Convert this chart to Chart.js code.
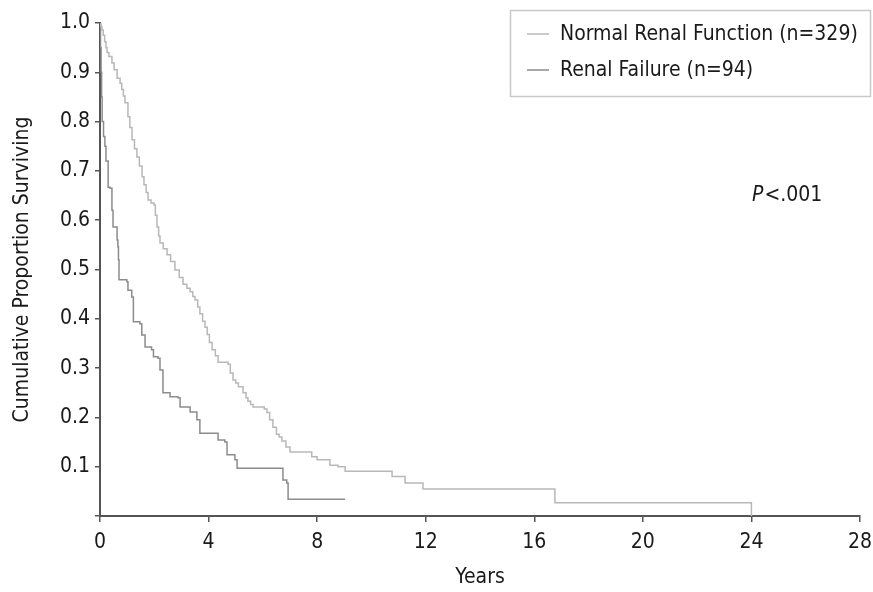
<!DOCTYPE html>
<html>
<head>
<meta charset="utf-8">
<script src="https://cdn.jsdelivr.net/npm/chart.js@4.4.0/dist/chart.umd.min.js"></script>
<style>
  html, body { margin: 0; padding: 0; background: #fff; }
  #wrap { width: 873px; height: 592px; }
</style>
</head>
<body>
<div id="wrap"><canvas id="km" width="873" height="592"></canvas></div>
<script>
// Kaplan-Meier estimates (time in years, proportion surviving)
const normalTimes = [0, 0.03, 0.07, 0.12, 0.17, 0.22, 0.26, 0.33, 0.44, 0.52, 0.63, 0.74, 0.8, 0.86, 0.92, 1.03, 1.1, 1.18, 1.27, 1.36, 1.45, 1.55, 1.62, 1.7, 1.77, 1.88, 1.99, 2.04, 2.1, 2.16, 2.21, 2.33, 2.47, 2.6, 2.76, 2.92, 3.06, 3.2, 3.32, 3.42, 3.5, 3.6, 3.68, 3.78, 3.87, 3.95, 4.03, 4.13, 4.25, 4.35, 4.72, 4.8, 4.9, 5.0, 5.1, 5.27, 5.38, 5.45, 5.55, 5.64, 6.05, 6.15, 6.25, 6.37, 6.5, 6.6, 6.7, 6.85, 7.0, 7.8, 8.0, 8.47, 8.77, 9.03, 10.76, 11.24, 11.9, 16.76, 24];
const normalSurv = [1.0, 0.993, 0.986, 0.975, 0.962, 0.95, 0.94, 0.932, 0.919, 0.905, 0.888, 0.878, 0.865, 0.852, 0.838, 0.81, 0.788, 0.763, 0.745, 0.728, 0.71, 0.688, 0.672, 0.656, 0.641, 0.635, 0.631, 0.61, 0.586, 0.568, 0.554, 0.542, 0.53, 0.516, 0.499, 0.484, 0.47, 0.462, 0.455, 0.445, 0.438, 0.424, 0.41, 0.395, 0.383, 0.368, 0.352, 0.337, 0.325, 0.312, 0.308, 0.29, 0.276, 0.27, 0.262, 0.25, 0.24, 0.233, 0.226, 0.221, 0.217, 0.21, 0.195, 0.18, 0.166, 0.16, 0.152, 0.14, 0.13, 0.12, 0.114, 0.103, 0.1, 0.091, 0.08, 0.067, 0.055, 0.027, 0];

const failureTimes = [0, 0.02, 0.04, 0.06, 0.08, 0.13, 0.18, 0.22, 0.3, 0.37, 0.44, 0.48, 0.63, 0.66, 0.68, 0.7, 0.99, 1.03, 1.17, 1.23, 1.47, 1.54, 1.66, 1.9, 1.97, 2.14, 2.21, 2.32, 2.58, 2.87, 2.95, 3.32, 3.57, 3.68, 4.35, 4.6, 4.68, 4.97, 5.05, 6.74, 6.88, 6.93, 9.03];
const failureSurv = [1.0, 0.95, 0.9, 0.85, 0.8, 0.77, 0.75, 0.72, 0.667, 0.665, 0.62, 0.586, 0.56, 0.546, 0.52, 0.479, 0.475, 0.458, 0.444, 0.394, 0.39, 0.367, 0.343, 0.337, 0.323, 0.32, 0.296, 0.25, 0.242, 0.24, 0.221, 0.211, 0.195, 0.168, 0.154, 0.15, 0.124, 0.114, 0.097, 0.073, 0.067, 0.034, 0.034];

const xTicks = [0, 4, 8, 12, 16, 20, 24, 28];
const yTicks = [0, 0.1, 0.2, 0.3, 0.4, 0.5, 0.6, 0.7, 0.8, 0.9, 1.0];

const fontFam = '"Liberation Sans Narrow", "DejaVu Sans Condensed", "Liberation Sans", sans-serif';

function toPoints(times, surv) {
    return times.map((t, i) => ({ x: t, y: surv[i] }));
}

// legend box and P value drawn inside the plot
const overlay = {
    id: 'overlay',
    afterDraw(chart) {
        const ctx = chart.ctx;
        ctx.save();
        ctx.strokeStyle = '#c8c8c8';
        ctx.lineWidth = 1.5;
        ctx.strokeRect(510.5, 10.5, 360, 86);
        ctx.font = '21px ' + fontFam;
        ctx.textBaseline = 'middle';
        ctx.fillStyle = '#1a1a1a';
        const rows = [34, 70];
        chart.data.datasets.forEach((ds, i) => {
            ctx.strokeStyle = ds.borderColor;
            ctx.lineWidth = 1.5;
            ctx.beginPath();
            ctx.moveTo(527, rows[i]);
            ctx.lineTo(549, rows[i]);
            ctx.stroke();
            ctx.fillText(ds.label, 560, rows[i] + 1);
        });
        ctx.font = 'italic 21px ' + fontFam;
        ctx.fillText('P', 752, 196);
        const pw = ctx.measureText('P').width;
        ctx.font = '21px ' + fontFam;
        ctx.fillText('<.001', 752 + pw + 1, 196);
        ctx.restore();
    }
};

new Chart(document.getElementById('km'), {
    type: 'line',
    data: {
        datasets: [{
            label: 'Normal Renal Function (n=329)',
            data: toPoints(normalTimes, normalSurv),
            borderColor: '#b8b8b8',
            borderWidth: 1.5,
            stepped: 'before',
            pointRadius: 0,
            fill: false
        }, {
            label: 'Renal Failure (n=94)',
            data: toPoints(failureTimes, failureSurv),
            borderColor: '#8c8c8c',
            borderWidth: 1.5,
            stepped: 'before',
            pointRadius: 0,
            fill: false
        }]
    },
    options: {
        responsive: false,
        animation: false,
        layout: {
            padding: { left: 0, right: 13, top: 23, bottom: 0 }
        },
        plugins: {
            legend: { display: false },
            tooltip: { enabled: false }
        },
        scales: {
            x: {
                type: 'linear',
                min: 0,
                max: 28,
                afterBuildTicks: (axis) => { axis.ticks = xTicks.map(v => ({ value: v })); },
                afterFit: (axis) => {
                    axis.height = 76;
                    axis.paddingLeft = 0;
                    axis.paddingRight = 0;
                },
                ticks: {
                    color: '#1a1a1a',
                    font: { family: fontFam, size: 21 },
                    padding: 8,
                    maxRotation: 0
                },
                grid: {
                    display: true,
                    drawOnChartArea: false,
                    drawTicks: true,
                    tickLength: 6,
                    color: '#555',
                    lineWidth: 1.5
                },
                border: { display: true, color: '#555', width: 2 },
                title: {
                    display: true,
                    text: 'Years',
                    color: '#1a1a1a',
                    font: { family: fontFam, size: 21 },
                    padding: { top: 0, bottom: 2 }
                }
            },
            y: {
                min: 0,
                max: 1,
                afterBuildTicks: (axis) => { axis.ticks = yTicks.map(v => ({ value: v })); },
                afterFit: (axis) => {
                    axis.width = 100;
                    axis.paddingTop = 0;
                    axis.paddingBottom = 0;
                },
                ticks: {
                    color: '#1a1a1a',
                    font: { family: fontFam, size: 21 },
                    padding: 5,
                    callback: (v) => v === 0 ? '' : v.toFixed(1)
                },
                grid: {
                    display: true,
                    drawOnChartArea: false,
                    drawTicks: true,
                    tickLength: 5,
                    color: '#555',
                    lineWidth: 1.5
                },
                border: { display: true, color: '#555', width: 2 },
                title: {
                    display: true,
                    text: 'Cumulative Proportion Surviving',
                    color: '#1a1a1a',
                    font: { family: fontFam, size: 21 },
                    padding: { top: 10, bottom: 0 }
                }
            }
        }
    },
    plugins: [overlay]
});
</script>
</body>
</html>
